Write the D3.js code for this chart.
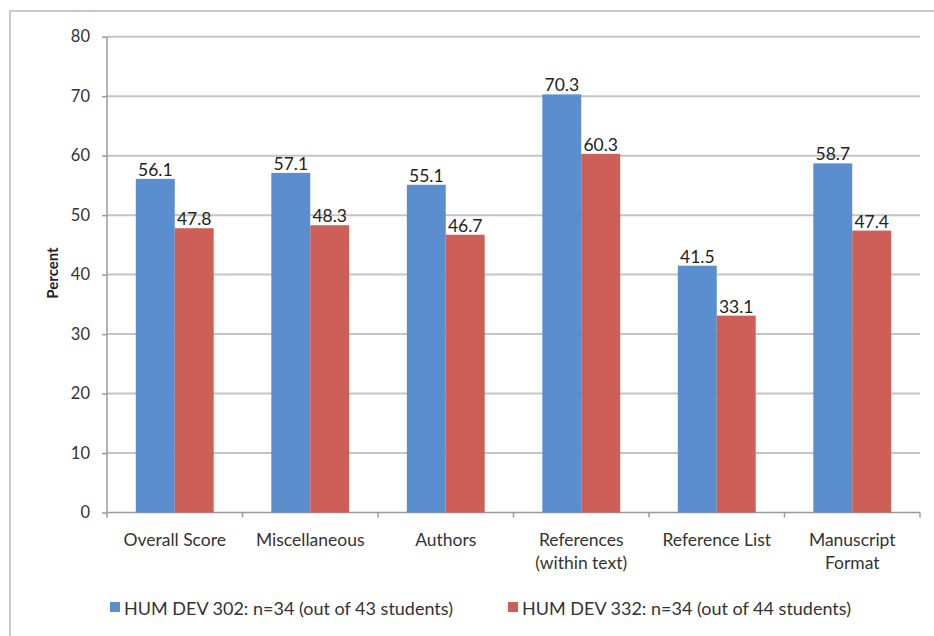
<!DOCTYPE html>
<html><head><meta charset="utf-8">
<script src="https://cdn.jsdelivr.net/npm/d3@7"></script>
<style>body{margin:0;background:#fff;}svg{display:block;font-family:Lato,"Open Sans",sans-serif;}</style>
</head><body>
<svg id="c" width="934" height="636"></svg>
<script>
const categories = [["Overall Score"],["Miscellaneous"],["Authors"],["References","(within text)"],["Reference List"],["Manuscript","Format"]];
const seriesNames = ["HUM DEV 302: n=34 (out of 43 students)","HUM DEV 332: n=34 (out of 44 students)"];
const hd302 = [56.1,57.1,55.1,70.3,41.5,58.7];
const hd332 = [47.8,48.3,46.7,60.3,33.1,47.4];
const yTicks = [0,10,20,30,40,50,60,70,80];
const colors = ["#5A8ECF","#CD5F58"];

(function(){
const svg = d3.select("#c");
svg.append("rect").attr("x",10).attr("y",11).attr("width",940).attr("height",640)
  .attr("fill","none").attr("stroke","#c9c9c9").attr("stroke-width",2);

const pL=107,pR=920,pT=36.7,pB=512.5;
const x = d3.scaleBand().domain(d3.range(categories.length)).range([pL,pR]).paddingInner(0).paddingOuter(0);
const y = d3.scaleLinear().domain([0,80]).range([pB,pT]);

// gridlines
svg.append("g").selectAll("line").data(yTicks.filter(d=>d>0)).join("line")
  .attr("x1",pL).attr("x2",pR).attr("y1",d=>y(d)).attr("y2",d=>y(d))
  .attr("stroke","#c4c4c4").attr("stroke-width",2);

// y axis
const ya = svg.append("g").attr("transform",`translate(${pL},0)`)
  .call(d3.axisLeft(y).tickValues(yTicks).tickSize(5).tickPadding(12));
ya.select(".domain").attr("stroke","#9a9a9a").attr("stroke-width",1.5).attr("d",`M0,${pB}V${pT}`);
ya.selectAll(".tick line").attr("stroke","#9a9a9a").attr("stroke-width",1.5);
ya.selectAll("text").attr("font-size",16.5).attr("fill","#333").attr("font-family","Lato,'Open Sans',sans-serif");

svg.append("text").attr("transform",`translate(58,273) rotate(-90)`).attr("text-anchor","middle")
  .attr("font-size",15).attr("font-weight","bold").attr("fill","#222").text("Percent");

// x axis
const inner = d3.scaleBand().domain([0,1]).range([0,x.bandwidth()]).paddingInner(0).paddingOuter(0.74);
const xa = svg.append("g");
xa.append("line").attr("x1",pL).attr("x2",pR).attr("y1",pB).attr("y2",pB)
  .attr("stroke","#9a9a9a").attr("stroke-width",1.5);
xa.selectAll("line.t").data(d3.range(categories.length+1)).join("line").attr("class","t")
  .attr("x1",d=>pL+d*x.bandwidth()).attr("x2",d=>pL+d*x.bandwidth())
  .attr("y1",pB).attr("y2",pB+5).attr("stroke","#9a9a9a").attr("stroke-width",1.5);

const series=[hd302,hd332];
const g = svg.append("g");
series.forEach((vals,si)=>{
  g.selectAll(null).data(vals).join("rect")
    .attr("x",(d,i)=>x(i)+inner(si)).attr("width",inner.bandwidth())
    .attr("y",d=>y(d)).attr("height",d=>pB-y(d)).attr("fill",colors[si]);
  g.selectAll(null).data(vals).join("text")
    .attr("x",(d,i)=>x(i)+inner(si)+inner.bandwidth()/2).attr("y",d=>y(d)-3)
    .attr("text-anchor","middle").attr("font-size",17.5).attr("fill","#222").text(d=>d.toFixed(1));
});

// category labels
categories.forEach((lines,i)=>{
  const t = svg.append("text").attr("text-anchor","middle").attr("font-size",17.5).attr("fill","#333");
  lines.forEach((ln,j)=>t.append("tspan").attr("x",x(i)+x.bandwidth()/2).attr("y",546+j*23).text(ln));
});

// legend
const legX=[110,508];
seriesNames.forEach((n,i)=>{
  svg.append("rect").attr("x",legX[i]).attr("y",602).attr("width",10).attr("height",10).attr("fill",colors[i]);
  svg.append("text").attr("x",legX[i]+14).attr("y",615).attr("font-size",18).attr("fill","#333").text(n);
});
})();
</script>
</body></html>
